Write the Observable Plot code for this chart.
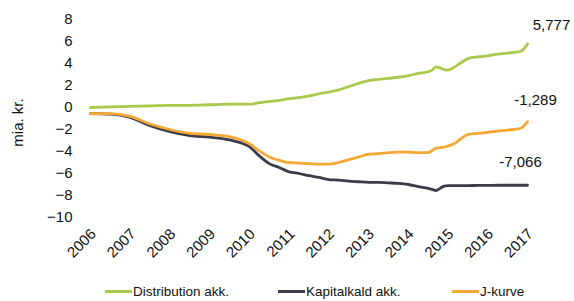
<!DOCTYPE html>
<html>
<head>
<meta charset="utf-8">
<script src="https://cdn.jsdelivr.net/npm/d3@7"></script>
<script src="https://cdn.jsdelivr.net/npm/@observablehq/plot@0.6"></script>
<style>
  html, body { margin: 0; padding: 0; background: #fff; }
  body { width: 574px; height: 301px; overflow: hidden; font-family: "Liberation Sans", Arial, sans-serif; }
  #legend { position: relative; width: 574px; height: 31px; font-size: 13.5px; line-height: 15px; color: #111; }
  .item { position: absolute; top: 14px; display: flex; align-items: center; white-space: nowrap; }
  .sw { width: 27px; height: 3px; margin-right: 1px; }
</style>
</head>
<body>
<div id="chart"></div>
<div id="legend"></div>
<script>
const years = [2006.0, 2006.5, 2007.0, 2007.5, 2008.0, 2008.5, 2009.0, 2009.5, 2010.0, 2010.25, 2010.5, 2010.75, 2011.0, 2011.25, 2011.5, 2011.75, 2012.0, 2012.25, 2012.5, 2012.75, 2013.0, 2013.25, 2013.5, 2013.75, 2014.0, 2014.25, 2014.5, 2014.6, 2014.7, 2014.8, 2014.9, 2015.0, 2015.15, 2015.3, 2015.5, 2015.75, 2016.0, 2016.25, 2016.5, 2016.75, 2016.85, 2017.0];

const distribution = [0.0, 0.05, 0.1, 0.15, 0.2, 0.2, 0.25, 0.3, 0.3, 0.45, 0.55, 0.65, 0.8, 0.9, 1.05, 1.25, 1.4, 1.6, 1.9, 2.2, 2.45, 2.55, 2.65, 2.75, 2.9, 3.1, 3.25, 3.4, 3.7, 3.6, 3.45, 3.4, 3.65, 4.0, 4.45, 4.6, 4.7, 4.85, 4.95, 5.05, 5.15, 5.777];

const kapitalkald = [-0.55, -0.6, -0.9, -1.65, -2.2, -2.55, -2.7, -2.95, -3.55, -4.4, -5.1, -5.45, -5.85, -6.0, -6.2, -6.35, -6.55, -6.6, -6.7, -6.75, -6.8, -6.8, -6.85, -6.9, -7.0, -7.2, -7.35, -7.45, -7.55, -7.35, -7.15, -7.1, -7.1, -7.1, -7.1, -7.08, -7.08, -7.07, -7.07, -7.07, -7.07, -7.066];

const jkurve = [-0.55, -0.55, -0.8, -1.5, -2.0, -2.35, -2.45, -2.65, -3.3, -3.95, -4.5, -4.8, -5.0, -5.05, -5.1, -5.15, -5.15, -5.0, -4.75, -4.5, -4.25, -4.2, -4.1, -4.05, -4.05, -4.1, -4.1, -3.9, -3.7, -3.65, -3.6, -3.5, -3.3, -2.9, -2.45, -2.35, -2.25, -2.15, -2.05, -1.95, -1.85, -1.289];

const seriesNames = ["Distribution akk.", "Kapitalkald akk.", "J-kurve"];
const seriesColors = ["#a9c94a", "#3b3b4c", "#f6a834"];
const xTicks = [2006, 2007, 2008, 2009, 2010, 2011, 2012, 2013, 2014, 2015, 2016, 2017];
const yTicks = [8, 6, 4, 2, 0, -2, -4, -6, -8, -10];
const endYear = [2017, 2017, 2017];
const endValues = [5.777, -1.289, -7.066];
const endLabels = ["5,777", "-1,289", "-7,066"];
const yLabel = "mia. kr.";

const seriesValues = [distribution, kapitalkald, jkurve];
const rows = [];
seriesNames.forEach((name, i) => {
  years.forEach((yr, j) => rows.push({series: name, x: yr, y: seriesValues[i][j]}));
});
const ends = endLabels.map((t, i) => ({x: endYear[i], y: endValues[i], t}));
const labelDx = [24, 8, -7];
const labelDy = [-19, -21, -23];

const chart = Plot.plot({
  width: 574,
  height: 270,
  marginLeft: 90,
  marginRight: 47,
  marginTop: 19,
  marginBottom: 53,
  style: {fontFamily: "'Liberation Sans', Arial, sans-serif", fontSize: "15px", color: "#111", background: "#fff"},
  x: {domain: [2006, 2017]},
  y: {domain: [-10, 8]},
  color: {domain: seriesNames, range: seriesColors},
  marks: [
    Plot.axisY({ticks: yTicks, tickSize: 0, tickPadding: 18, label: null, fontSize: 15}),
    Plot.axisX({ticks: xTicks, tickFormat: d => String(d), tickSize: 0, tickRotate: -45, tickPadding: 14, label: null, fontSize: 15, dx: 3}),
    Plot.text([yLabel], {frameAnchor: "left", textAnchor: "middle", dx: -72, dy: 4, rotate: -90, fontSize: 15, fill: "#111", text: d => d}),
    Plot.line(rows, {x: "x", y: "y", z: "series", stroke: "series", strokeWidth: 2.8, curve: "monotone-x"}),
    ...ends.map((e, i) => Plot.text([e], {x: "x", y: "y", text: "t", dx: labelDx[i], dy: labelDy[i], fontSize: 15, fill: "#111"}))
  ]
});
document.getElementById("chart").appendChild(chart);

const legendPos = [105, 278, 452];
const legend = document.getElementById("legend");
seriesNames.forEach((name, i) => {
  const it = document.createElement("div");
  it.className = "item";
  it.style.left = legendPos[i] + "px";
  const sw = document.createElement("span");
  sw.className = "sw";
  sw.style.background = seriesColors[i];
  const tx = document.createElement("span");
  tx.textContent = name;
  it.appendChild(sw); it.appendChild(tx);
  legend.appendChild(it);
});
</script>
</body>
</html>
